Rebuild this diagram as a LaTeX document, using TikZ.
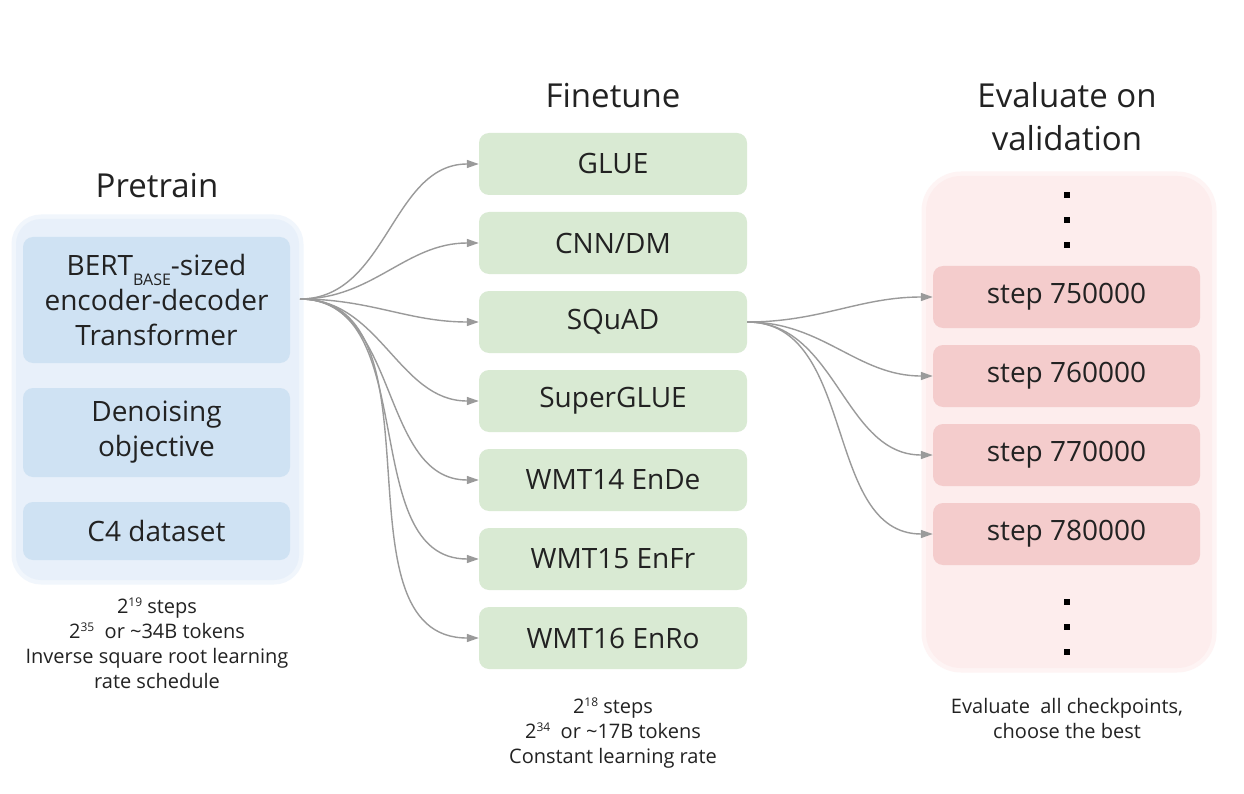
\documentclass[tikz,border=0pt]{standalone}
\usepackage{fontspec}
\setmainfont{Open Sans}
\usetikzlibrary{arrows.meta}

\definecolor{panelblue}{HTML}{E8F0FA}
\definecolor{boxblue}{HTML}{CFE2F3}
\definecolor{boxgreen}{HTML}{D9EAD3}
\definecolor{panelpink}{HTML}{FDEDED}
\definecolor{boxred}{HTML}{F4CCCC}
\definecolor{ink}{HTML}{222222}
\definecolor{wire}{HTML}{9A9A9A}

\newcommand{\upnum}[1]{\raisebox{0.32em}{\fontsize{12}{12}\selectfont #1}}

\begin{document}
\begin{tikzpicture}[x=1pt,y=-1pt,
  box/.style={rounded corners=10pt, inner sep=0pt, minimum width=267pt,
    text=ink, align=center, font=\fontsize{28}{35}\selectfont},
  title/.style={inner sep=0pt, text=ink, align=center, font=\fontsize{33}{43}\selectfont},
  note/.style={anchor=north, inner sep=0pt, text=ink, align=center, font=\fontsize{20}{25}\selectfont},
  link/.style={wire, line width=1.4pt, -{Triangle[length=12pt,width=8pt]}}]
\fill[white] (0,0) rectangle (1244,794);
\useasboundingbox (0,0) rectangle (1244,794);

% panels
\draw[panelblue!60, line width=5pt, rounded corners=27pt] (14,217) rectangle (301,582);
\fill[panelblue, rounded corners=25pt] (16,219) rectangle (299,580);
\draw[panelpink!60, line width=5pt, rounded corners=37pt] (924,174) rectangle (1214,670);
\fill[panelpink, rounded corners=35pt] (926,176) rectangle (1212,668);

% titles
\node[title, anchor=base] (pretrain) at (157,198) {Pretrain};
\node[title, anchor=base] (finetune) at (613,108) {Finetune};
\node[title, anchor=north] (evaluate) at (1067,82) {Evaluate on\\validation};

% pretrain column
\node[box, fill=boxblue, minimum height=126pt] (bert) at (156.5,300)
  {BERT\raisebox{-0.36em}{\fontsize{16}{16}\selectfont BASE}-sized\\encoder-decoder\\Transformer};
\node[box, fill=boxblue, minimum height=89pt] (denoise) at (156.5,432.5) {Denoising\\objective};
\node[box, fill=boxblue, minimum height=58pt] (cfour) at (156.5,531) {C4 dataset};

% finetune column
\node[box, fill=boxgreen, minimum width=268pt, minimum height=62pt] (glue) at (613,164) {GLUE};
\node[box, fill=boxgreen, minimum width=268pt, minimum height=62pt] (cnn) at (613,243) {CNN/DM};
\node[box, fill=boxgreen, minimum width=268pt, minimum height=62pt] (squad) at (613,322) {SQuAD};
\node[box, fill=boxgreen, minimum width=268pt, minimum height=62pt] (superglue) at (613,401) {SuperGLUE};
\node[box, fill=boxgreen, minimum width=268pt, minimum height=62pt] (wmta) at (613,480) {WMT14 EnDe};
\node[box, fill=boxgreen, minimum width=268pt, minimum height=62pt] (wmtb) at (613,559) {WMT15 EnFr};
\node[box, fill=boxgreen, minimum width=268pt, minimum height=62pt] (wmtc) at (613,638) {WMT16 EnRo};

% checkpoints
\node[box, fill=boxred, minimum height=62pt] (ckpa) at (1066.5,297) {step 750000};
\node[box, fill=boxred, minimum height=62pt] (ckpb) at (1066.5,376) {step 760000};
\node[box, fill=boxred, minimum height=62pt] (ckpc) at (1066.5,455) {step 770000};
\node[box, fill=boxred, minimum height=62pt] (ckpd) at (1066.5,534) {step 780000};
\foreach \y in {195,220,245,602,627,652}
  \fill[black] (1064,\y-3) rectangle (1070,\y+3);

% connectors
\coordinate (fan) at (300,299);
\foreach \n in {glue,cnn,squad,superglue,wmta,wmtb,wmtc}
  \draw[link] (fan) to[out=0,in=180] (\n.west);
\foreach \n in {ckpa,ckpb,ckpc,ckpd}
  \draw[link] (squad.east) to[out=0,in=180] (\n.west);

% notes
\node[note] (prenote) at (157,598)
  {2\upnum{19} steps\\2\upnum{35}\ \ or \textasciitilde34B tokens\\Inverse square root learning\\rate schedule};
\node[note] (finenote) at (613,698)
  {2\upnum{18} steps\\2\upnum{34}\ \ or \textasciitilde17B tokens\\Constant learning rate};
\node[note] (evalnote) at (1067,698) {Evaluate\ \ all checkpoints,\\choose the best};
\end{tikzpicture}
\end{document}
